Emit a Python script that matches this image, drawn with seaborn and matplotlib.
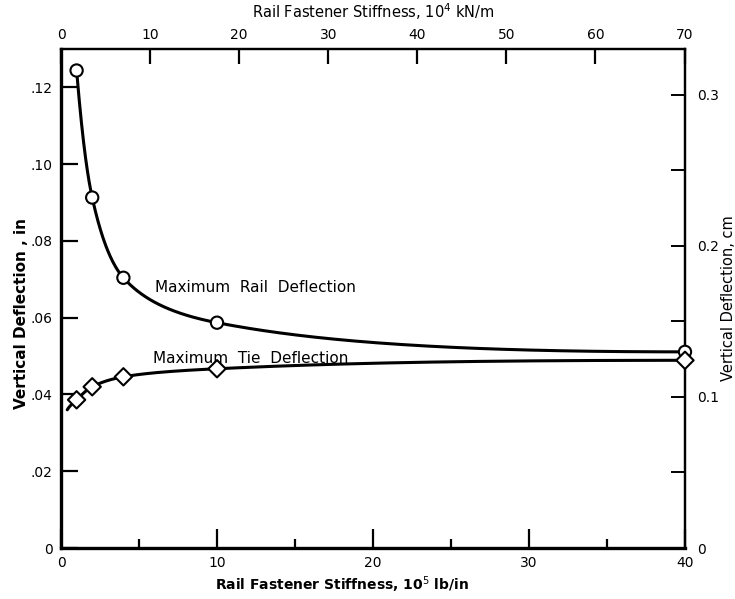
import numpy as np
import pandas as pd
import matplotlib
matplotlib.use("Agg")
import matplotlib.pyplot as plt
import seaborn as sns
from matplotlib.ticker import FixedLocator, FixedFormatter

# Fastener stiffness, 10^5 lb/in
stiffness = [1, 2, 4, 10, 40]
# Maximum deflections, in
rail_deflection = [0.1244, 0.0913, 0.0704, 0.0587, 0.0511]
tie_deflection = [0.0386, 0.0420, 0.0446, 0.0467, 0.0489]
# the tie curve is drawn in from a little left of the first point
tie_curve_start_x = [0.4]
tie_curve_start_y = [0.0360]

left_ticks = [0, 0.02, 0.04, 0.06, 0.08, 0.10, 0.12]
left_labels = ["0", ".02", ".04", ".06", ".08", ".10", ".12"]
bottom_ticks = [0, 10, 20, 30, 40]
bottom_minor = [5, 15, 25, 35]
top_ticks = [0, 10, 20, 30, 40, 50, 60, 70]
right_ticks = [0, 0.1, 0.2, 0.3]
right_labels = ["0", "0.1", "0.2", "0.3"]
right_minor = [0.05, 0.15, 0.25]

LBIN_TO_KNM = 1.75127   # 10^5 lb/in -> 10^4 kN/m
IN_TO_CM = 2.54


def smooth_curve(x, y, n=300):
    """Monotone cubic through the points in log-x, levelling off at the end."""
    x = np.asarray(x, float)
    y = np.asarray(y, float)
    u = np.log(x)
    h = np.diff(u)
    d = np.diff(y) / h
    m = np.zeros_like(y)
    m[0] = d[0]
    m[-1] = 0.0
    for i in range(1, len(y) - 1):
        if d[i - 1] * d[i] <= 0:
            m[i] = 0.0
        else:
            w1 = 2 * h[i] + h[i - 1]
            w2 = h[i] + 2 * h[i - 1]
            m[i] = (w1 + w2) / (w1 / d[i - 1] + w2 / d[i])
    uu = np.linspace(u[0], u[-1], n)
    idx = np.clip(np.searchsorted(u, uu) - 1, 0, len(u) - 2)
    t = (uu - u[idx]) / h[idx]
    h00 = 2 * t**3 - 3 * t**2 + 1
    h10 = t**3 - 2 * t**2 + t
    h01 = -2 * t**3 + 3 * t**2
    h11 = t**3 - t**2
    yy = (h00 * y[idx] + h10 * h[idx] * m[idx]
          + h01 * y[idx + 1] + h11 * h[idx] * m[idx + 1])
    return np.exp(uu), yy


sns.set_theme(style="ticks")
plt.rcParams["font.family"] = ["DejaVu Sans"]
plt.rcParams.update({
    "text.color": "black",
    "axes.labelcolor": "black",
    "axes.edgecolor": "black",
    "xtick.color": "black",
    "ytick.color": "black",
})

fig = plt.figure(figsize=(7.35, 5.99), dpi=100)
ax = fig.add_axes([61 / 735, 1 - 548 / 599, 624 / 735, 499 / 599])

rx, ry = smooth_curve(stiffness, rail_deflection)
tx, ty = smooth_curve(tie_curve_start_x + stiffness,
                      tie_curve_start_y + tie_deflection)

sns.lineplot(x=rx, y=ry, ax=ax, color="black", lw=2.2, sort=False,
             estimator=None)
sns.lineplot(x=tx, y=ty, ax=ax, color="black", lw=2.2, sort=False,
             estimator=None)

points = pd.DataFrame({
    "stiffness": stiffness * 2,
    "deflection": rail_deflection + tie_deflection,
    "kind": ["rail"] * len(stiffness) + ["tie"] * len(stiffness),
})
sns.scatterplot(data=points, x="stiffness", y="deflection", style="kind",
                markers={"rail": "o", "tie": "D"}, s=78,
                facecolor="white", edgecolor="black", linewidth=1.5,
                ax=ax, legend=False, zorder=5, clip_on=False)

ax.set_xlim(0, 40)
ax.set_ylim(0, 0.13)

ax.xaxis.set_major_locator(FixedLocator(bottom_ticks))
ax.xaxis.set_minor_locator(FixedLocator(bottom_minor))
ax.set_xticklabels([str(t) for t in bottom_ticks])
ax.yaxis.set_major_locator(FixedLocator(left_ticks))
ax.yaxis.set_major_formatter(FixedFormatter(left_labels))

ax.tick_params(axis="x", which="major", direction="in", length=14, width=1.6,
               labelsize=10, pad=6, top=False)
ax.tick_params(axis="x", which="minor", direction="in", length=6.5, width=1.6,
               top=False)
ax.tick_params(axis="y", which="major", direction="in", length=12, width=1.6,
               labelsize=10, pad=6, right=False)

for side in ("left", "bottom"):
    ax.spines[side].set_linewidth(2.4)
for side in ("right", "top"):
    ax.spines[side].set_linewidth(1.6)
    ax.spines[side].set_visible(True)

ax.set_xlabel("Rail Fastener Stiffness, 10$^5$ lb/in", fontsize=10,
              fontweight="bold")
ax.set_ylabel("Vertical Deflection , in", fontsize=11, fontweight="bold")
ax.xaxis.set_label_coords(0.45, -0.052)
ax.yaxis.set_label_coords(-0.052, 0.47)

top = ax.secondary_xaxis("top", functions=(lambda x: x * LBIN_TO_KNM,
                                           lambda x: x / LBIN_TO_KNM))
top.xaxis.set_major_locator(FixedLocator(top_ticks))
top.set_xticklabels([str(t) for t in top_ticks])
top.tick_params(direction="in", length=11, width=1.6, labelsize=10, pad=5)
top.spines["top"].set_linewidth(1.6)
top.set_xlabel("Rail Fastener Stiffness, 10$^4$ kN/m", fontsize=10.5,
               labelpad=7)

right = ax.secondary_yaxis("right", functions=(lambda y: y * IN_TO_CM,
                                               lambda y: y / IN_TO_CM))
right.yaxis.set_major_locator(FixedLocator(right_ticks))
right.yaxis.set_minor_locator(FixedLocator(right_minor))
right.yaxis.set_major_formatter(FixedFormatter(right_labels))
right.tick_params(which="both", direction="in", length=10, width=1.4,
                  labelsize=10, pad=9)
right.spines["right"].set_linewidth(1.6)
right.set_ylabel("Vertical Deflection, cm", fontsize=10.5, labelpad=1)

ax.text(6.0, 0.0678, "Maximum  Rail  Deflection", fontsize=11,
        va="center", ha="left")
ax.text(5.9, 0.0493, "Maximum  Tie  Deflection", fontsize=11,
        va="center", ha="left")

fig.savefig("out.png", dpi=100, facecolor="white")
